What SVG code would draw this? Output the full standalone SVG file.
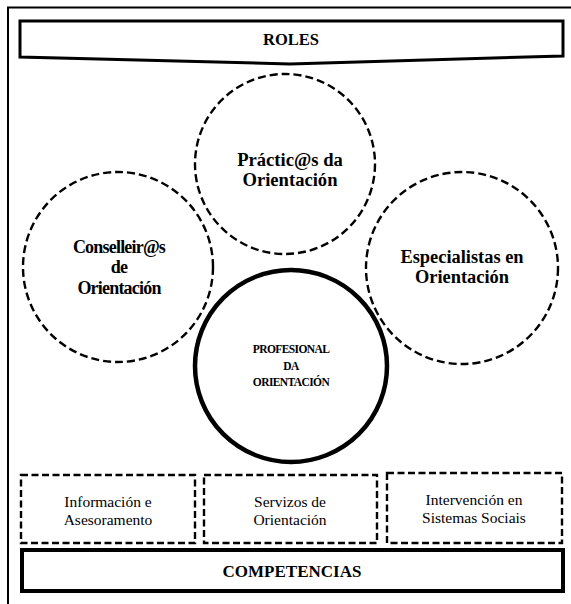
<svg xmlns="http://www.w3.org/2000/svg" width="571" height="604" viewBox="0 0 571 604">
<style>
.dc{fill:none;stroke:#000;stroke-width:2.4;stroke-dasharray:8 4}
.db{fill:none;stroke:#000;stroke-width:2.4;stroke-dasharray:7 3.5}
text{font-family:'Liberation Serif','Times New Roman',serif;fill:#000;text-anchor:middle}
.b{font-weight:bold}
</style>
<rect width="571" height="604" fill="#fff"/>
<g id="frame">
<path d="M8,604 V7.5 H575" fill="none" stroke="#000" stroke-width="2"/>
</g>
<g id="roles">
<path d="M20,21 H563 V56 L290,64 L20,57 Z" fill="#fff" stroke="#000" stroke-width="3"/>
<text class="b" x="291" y="45" font-size="16.5" font-family="Liberation Serif, serif">ROLES</text>
</g>
<g id="practicas">
<circle class="dc" cx="285" cy="164" r="90"/>
<text class="b" x="290" y="166" font-size="18.6" font-family="Liberation Serif, serif">Práctic@s da</text>
<text class="b" x="290" y="186" font-size="18.6" font-family="Liberation Serif, serif">Orientación</text>
</g>
<g id="conselleiros">
<circle class="dc" cx="118" cy="267" r="95"/>
<text class="b" x="119" y="253" font-size="18" letter-spacing="-0.8" font-family="Liberation Serif, serif">Conselleir@s</text>
<text class="b" x="119" y="273" font-size="18" letter-spacing="-0.8" font-family="Liberation Serif, serif">de</text>
<text class="b" x="119" y="294" font-size="18" letter-spacing="-0.8" font-family="Liberation Serif, serif">Orientación</text>
</g>
<g id="especialistas">
<circle class="dc" cx="462" cy="268" r="96"/>
<text class="b" x="462" y="263" font-size="18.4" font-family="Liberation Serif, serif">Especialistas en</text>
<text class="b" x="462" y="283" font-size="18.4" font-family="Liberation Serif, serif">Orientación</text>
</g>
<g id="profesional">
<circle cx="291" cy="366" r="96" fill="none" stroke="#000" stroke-width="4.5"/>
<text class="b" x="291" y="353" font-size="11.5" letter-spacing="-0.6" font-family="Liberation Serif, serif">PROFESIONAL</text>
<text class="b" x="291" y="370" font-size="11.5" letter-spacing="-0.6" font-family="Liberation Serif, serif">DA</text>
<text class="b" x="291" y="386" font-size="11.5" letter-spacing="-0.6" font-family="Liberation Serif, serif">ORIENTACIÓN</text>
</g>
<g id="informacion">
<rect class="db" x="21" y="475" width="174" height="68"/>
<text x="108" y="507" font-size="15.5" font-family="Liberation Serif, serif">Información e</text>
<text x="108" y="525" font-size="15.5" font-family="Liberation Serif, serif">Asesoramento</text>
</g>
<g id="servizos">
<rect class="db" x="204" y="475" width="173" height="68"/>
<text x="290" y="507" font-size="15.5" font-family="Liberation Serif, serif">Servizos de</text>
<text x="290" y="525" font-size="15.5" font-family="Liberation Serif, serif">Orientación</text>
</g>
<g id="intervencion">
<rect class="db" x="387" y="473" width="175" height="70"/>
<text x="474" y="505" font-size="15.5" font-family="Liberation Serif, serif">Intervención en</text>
<text x="474" y="523" font-size="15.5" font-family="Liberation Serif, serif">Sistemas Sociais</text>
</g>
<g id="competencias">
<rect x="22" y="550" width="541" height="41" fill="none" stroke="#000" stroke-width="4"/>
<text class="b" x="292" y="577" font-size="17" font-family="Liberation Serif, serif">COMPETENCIAS</text>
</g>
<g id="connectors"></g>
</svg>
